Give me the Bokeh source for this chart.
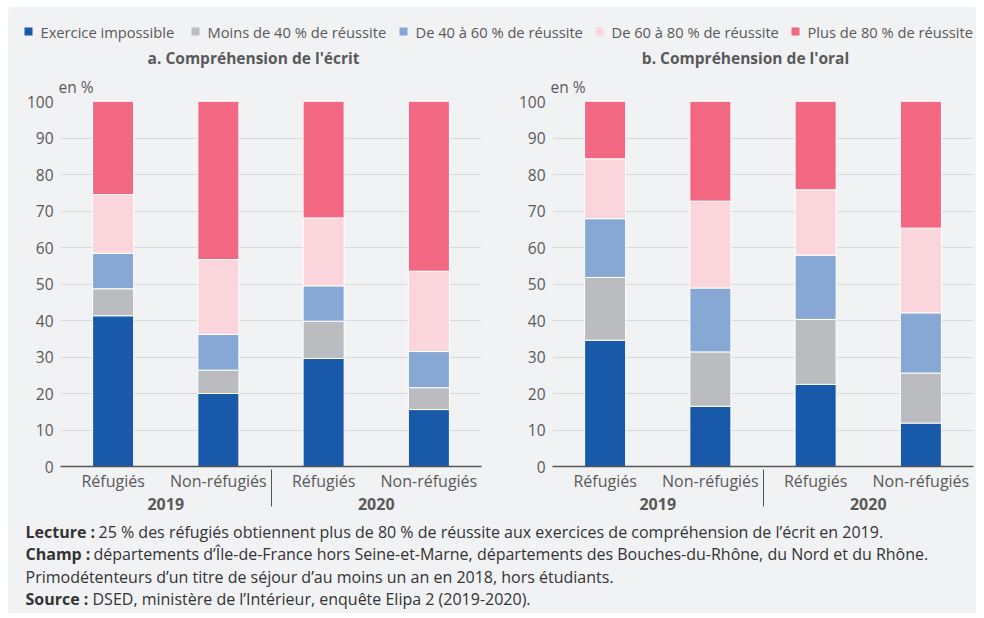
from bokeh.plotting import figure
from bokeh.models import FactorRange, Range1d, FixedTicker, ColumnDataSource, Spacer
from bokeh.layouts import column, row
from bokeh.core.properties import value
from bokeh.embed import file_html
from bokeh.resources import INLINE

# ---------------- data ----------------
years = ["2019", "2019", "2020", "2020"]
groups = ["Réfugiés", "Non-réfugiés", "Réfugiés", "Non-réfugiés"]

series_names = ["Exercice impossible", "Moins de 40 % de réussite", "De 40 à 60 % de réussite",
                "De 60 à 80 % de réussite", "Plus de 80 % de réussite"]
series_keys = ["impossible", "moins40", "de40a60", "de60a80", "plus80"]
colors = ["#1859a9", "#bbbcbf", "#87a8d4", "#fad6dc", "#f26882"]

ecrit_impossible = [41.3, 20.0, 29.6, 15.6]
ecrit_moins40 = [7.4, 6.4, 10.2, 6.0]
ecrit_de40a60 = [9.7, 9.8, 9.7, 9.9]
ecrit_de60a80 = [16.1, 20.5, 18.6, 22.0]
ecrit_plus80 = [25.5, 43.3, 31.9, 46.5]

oral_impossible = [34.6, 16.5, 22.5, 11.9]
oral_moins40 = [17.2, 14.9, 17.8, 13.7]
oral_de40a60 = [16.1, 17.5, 17.6, 16.5]
oral_de60a80 = [16.4, 23.8, 17.9, 23.2]
oral_plus80 = [15.7, 27.3, 24.2, 34.7]

titles = ["a. Compréhension de l'écrit", "b. Compréhension de l'oral"]
y_ticks = [0, 10, 20, 30, 40, 50, 60, 70, 80, 90, 100]
unit_label = "en %"

notes = [
    ("Lecture :", "25 % des réfugiés obtiennent plus de 80 % de réussite aux exercices de compréhension de l’écrit en 2019."),
    ("Champ :", "départements d’Île-de-France hors Seine-et-Marne, départements des Bouches-du-Rhône, du Nord et du Rhône."),
    ("", "Primodétenteurs d’un titre de séjour d’au moins un an en 2018, hors étudiants."),
    ("Source :", "DSED, ministère de l’Intérieur, enquête Elipa 2 (2019-2020)."),
]

# ---------------- style ----------------
BG = "#f1f2f4"
TXT = "#595959"
FONT = "Open Sans"

factors = list(zip(years, groups))


def make_chart(vals, width, bl, br):
    data = {"x": factors}
    for k, v in zip(series_keys, vals):
        data[k] = v
    src = ColumnDataSource(data)
    p = figure(x_range=FactorRange(*factors, factor_padding=0, group_padding=0,
                                   subgroup_padding=0, range_padding=0),
               y_range=Range1d(0, 100), width=width, height=451,
               min_border_left=bl, min_border_right=br, min_border_top=31, min_border_bottom=54,
               output_backend="svg", toolbar_location=None, title=unit_label,
               background_fill_color=BG, border_fill_color=BG, outline_line_color=None)
    p.title.align = "left"
    p.title.text_font = FONT
    p.title.text_font_size = "15.5px"
    p.title.text_font_style = "normal"
    p.title.text_color = TXT
    p.title.standoff = 8
    p.title.offset = -2
    p.vbar_stack(series_keys, x="x", width=0.39, color=colors, source=src,
                 line_color="white", line_width=1)
    p.xgrid.grid_line_color = None
    p.ygrid.grid_line_color = "#d8d9db"
    p.ygrid.grid_line_width = 1.2
    p.yaxis.ticker = FixedTicker(ticks=y_ticks)
    p.yaxis.axis_line_color = None
    p.yaxis.major_tick_line_color = None
    p.yaxis.minor_tick_line_color = None
    p.yaxis.major_tick_out = 0
    p.yaxis.major_tick_in = 0
    p.yaxis.major_label_standoff = 7
    p.yaxis.major_label_text_color = TXT
    p.yaxis.major_label_text_font = FONT
    p.yaxis.major_label_text_font_size = "15.5px"
    p.xaxis.axis_line_color = "#555555"
    p.xaxis.axis_line_width = 1.5
    p.xaxis.major_tick_line_color = None
    p.xaxis.minor_tick_line_color = None
    p.xaxis.major_tick_out = 0
    p.xaxis.major_tick_in = 0
    p.xaxis.major_label_text_color = TXT
    p.xaxis.major_label_text_font = FONT
    p.xaxis.major_label_text_font_size = "16px"
    p.xaxis.major_label_standoff = 3
    p.xaxis.group_text_color = TXT
    p.xaxis.group_text_font = FONT
    p.xaxis.group_text_font_size = "16px"
    p.xaxis.group_text_font_style = "bold"
    p.xaxis.separator_line_color = "#555555"
    p.xaxis.separator_line_width = 1
    return p


left = make_chart([ecrit_impossible, ecrit_moins40, ecrit_de40a60, ecrit_de60a80, ecrit_plus80], 482, 52, 9)
right = make_chart([oral_impossible, oral_moins40, oral_de40a60, oral_de60a80, oral_plus80], 486, 62, 3)

# ---------------- header (legend + titles) ----------------
W = 968
HH = 62
head = figure(width=W, height=HH, x_range=Range1d(0, W), y_range=Range1d(HH, 0),
              output_backend="svg", toolbar_location=None, min_border=0,
              background_fill_color=BG, border_fill_color=BG, outline_line_color=None)
head.axis.visible = False
head.grid.visible = False
leg_x = [20, 187, 395, 591, 787]
leg_y = [24] * 5
head.scatter(x=leg_x, y=leg_y, marker="square", size=8, color=colors, line_color=None)
head.text(x=[x + 12 for x in leg_x], y=leg_y, text=series_names, text_font=value(FONT),
          text_font_size=value("14.7px"), text_color=TXT, text_baseline="middle", text_align="left")
head.text(x=[245, 737], y=[50, 50], text=titles, text_font=value(FONT), text_font_size=value("15.5px"),
          text_font_style="bold", text_color=TXT, text_baseline="middle", text_align="center")

# ---------------- footnotes ----------------
FH = 93
foot = figure(width=W, height=FH, x_range=Range1d(0, W), y_range=Range1d(FH, 0),
              output_backend="svg", toolbar_location=None, min_border=0,
              background_fill_color=BG, border_fill_color=BG, outline_line_color=None)
foot.axis.visible = False
foot.grid.visible = False
line_y = [11, 33, 56, 78]
text_x = [90, 85, 17, 84]
foot.text(x=[17] * 4, y=line_y, text=[n[0] for n in notes], text_font=value(FONT),
          text_font_size=value("16px"), text_font_style="bold", text_color="#333333",
          text_baseline="middle", text_align="left")
foot.text(x=text_x, y=line_y, text=[n[1] for n in notes], text_font=value(FONT),
          text_font_size=value("16px"), text_color="#333333",
          text_baseline="middle", text_align="left")

charts = row(left, right, styles={"background-color": BG})
card = column(head, charts, foot, styles={"background-color": BG, "border-radius": "8px"})
layout = column(Spacer(height=7), row(Spacer(width=8), card))
open("out.html", "w").write(file_html(layout, INLINE))
